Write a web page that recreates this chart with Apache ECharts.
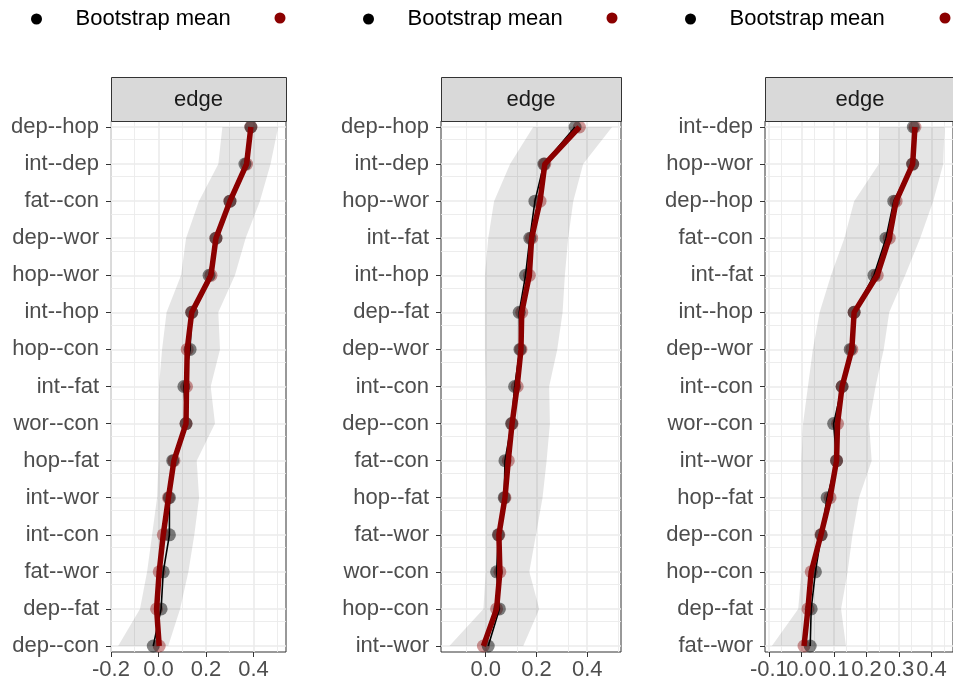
<!DOCTYPE html>
<html>
<head>
<meta charset="utf-8">
<script src="https://cdn.jsdelivr.net/npm/echarts@6/dist/echarts.min.js"></script>
<style>
  html, body { margin: 0; padding: 0; background: #fff; }
  #chart { width: 953px; height: 684px; }
</style>
</head>
<body>
<div id="chart"></div>
<script>
// 各面板的边（从上到下）
var cats1 = ['dep--hop', 'int--dep', 'fat--con', 'dep--wor', 'hop--wor', 'int--hop', 'hop--con', 'int--fat',
  'wor--con', 'hop--fat', 'int--wor', 'int--con', 'fat--wor', 'dep--fat', 'dep--con'];
var boot1 = [0.389, 0.364, 0.301, 0.242, 0.213, 0.140, 0.133, 0.107, 0.116, 0.060, 0.046, 0.046, 0.020, 0.011, -0.022];
var samp1 = [0.389, 0.371, 0.301, 0.242, 0.221, 0.140, 0.121, 0.118, 0.116, 0.065, 0.042, 0.020, 0.003, -0.008, 0.003];
var lo1 = [0.269, 0.252, 0.170, 0.116, 0.095, 0.034, 0.015, 0.002, 0.000, 0.000, -0.006, -0.027, -0.048, -0.078, -0.170];
var hi1 = [0.504, 0.472, 0.427, 0.367, 0.322, 0.252, 0.259, 0.220, 0.238, 0.161, 0.171, 0.151, 0.126, 0.091, 0.041];

var cats2 = ['dep--hop', 'int--dep', 'hop--wor', 'int--fat', 'int--hop', 'dep--fat', 'dep--wor', 'int--con',
  'dep--con', 'fat--con', 'hop--fat', 'fat--wor', 'wor--con', 'hop--con', 'int--wor'];
var boot2 = [0.352, 0.229, 0.194, 0.174, 0.157, 0.132, 0.135, 0.114, 0.102, 0.076, 0.073, 0.050, 0.043, 0.054, 0.010];
var samp2 = [0.369, 0.233, 0.214, 0.181, 0.172, 0.142, 0.139, 0.124, 0.104, 0.089, 0.076, 0.052, 0.056, 0.043, -0.009];
var lo2 = [0.187, 0.096, 0.033, 0.010, -0.003, -0.003, -0.003, 0.000, 0.000, 0.000, 0.000, 0.000, 0.000, -0.009, -0.143];
var hi2 = [0.498, 0.384, 0.345, 0.325, 0.312, 0.303, 0.282, 0.250, 0.253, 0.240, 0.224, 0.198, 0.172, 0.211, 0.148];

var cats3 = ['int--dep', 'hop--wor', 'dep--hop', 'fat--con', 'int--fat', 'int--hop', 'dep--wor', 'int--con',
  'wor--con', 'int--wor', 'hop--fat', 'dep--con', 'hop--con', 'dep--fat', 'fat--wor'];
var boot3 = [0.344, 0.342, 0.284, 0.260, 0.223, 0.162, 0.150, 0.125, 0.099, 0.108, 0.079, 0.061, 0.043, 0.030, 0.027];
var samp3 = [0.349, 0.342, 0.291, 0.270, 0.233, 0.162, 0.155, 0.125, 0.111, 0.108, 0.088, 0.060, 0.030, 0.020, 0.008];
var lo3 = [0.240, 0.238, 0.162, 0.132, 0.091, 0.056, 0.035, 0.020, 0.005, 0.000, 0.000, 0.000, 0.000, -0.010, -0.091];
var hi3 = [0.440, 0.436, 0.405, 0.365, 0.319, 0.270, 0.253, 0.228, 0.208, 0.216, 0.177, 0.157, 0.142, 0.122, 0.137];

// x轴刻度
var ticks1 = [-0.2, 0, 0.2, 0.4];
var ticks2 = [0, 0.2, 0.4];
var ticks3 = [-0.1, 0, 0.1, 0.2, 0.3, 0.4];

var FONT = '"Liberation Sans", Arial, sans-serif';
var FS = 22;

// 面板布局
var panels = [
  { cats: cats1, boot: boot1, samp: samp1, lo: lo1, hi: hi1, ticks: ticks1, left: 111, width: 175, min: -0.2, max: 0.537, step: 0.2, legendLeft: 26, redLeft: 269.5 },
  { cats: cats2, boot: boot2, samp: samp2, lo: lo2, hi: hi2, ticks: ticks2, left: 441, width: 180, min: -0.176, max: 0.533, step: 0.2, legendLeft: 358, redLeft: 601.5 },
  { cats: cats3, boot: boot3, samp: samp3, lo: lo3, hi: hi3, ticks: ticks3, left: 765, width: 190, min: -0.112, max: 0.466, step: 0.1, legendLeft: 680, redLeft: 934.5 }
];
var TOP = 121, HEIGHT = 531;

var myChart = echarts.init(document.getElementById('chart'), null, { renderer: 'canvas' });

function pairs(vals) {
  return vals.map(function (v, i) { return [v, i + 1]; });
}

// 置信带：整条多边形
function bandItem(lo, hi) {
  return function (params, api) {
    if (params.dataIndex !== 0) return null;
    var pts = [];
    for (var i = 0; i < hi.length; i++) pts.push(api.coord([hi[i], i + 1]));
    for (var j = lo.length - 1; j >= 0; j--) pts.push(api.coord([lo[j], j + 1]));
    return { type: 'polygon', shape: { points: pts }, style: { fill: 'rgba(0,0,0,0.1)' } };
  };
}

function xLabel(v) { return v.toFixed(1); }

var grid = [], xAxis = [], yAxis = [], series = [], legend = [], graphic = [];

panels.forEach(function (p, k) {
  grid.push({
    left: p.left, top: TOP, width: p.width, height: HEIGHT,
    show: true, borderColor: '#333333', borderWidth: 1, backgroundColor: 'transparent'
  });
  var pos = p.cats.map(function (c, i) { return i + 1; });
  // 标签分两组放在两根轴上，避免相互重叠时被隐藏
  var evenTicks = p.ticks.filter(function (t, i) { return i % 2 === 0; });
  var oddTicks = p.ticks.filter(function (t, i) { return i % 2 === 1; });
  xAxis.push({
    type: 'value', gridIndex: k, position: 'bottom', min: p.min, max: p.max, interval: p.step,
    axisLine: { show: false, onZero: false },
    axisTick: { show: true, length: 5, customValues: p.ticks, lineStyle: { color: '#333333', width: 1 } },
    axisLabel: {
      customValues: evenTicks, margin: 7, color: '#4d4d4d', fontSize: FS, fontFamily: FONT,
      formatter: xLabel
    },
    splitLine: { show: true, lineStyle: { color: '#ebebeb', width: 1.6 } },
    minorTick: { show: false, splitNumber: 2 },
    minorSplitLine: { show: true, lineStyle: { color: '#ebebeb', width: 0.9 } }
  });
  xAxis.push({
    type: 'value', gridIndex: k, position: 'bottom', offset: 0, min: p.min, max: p.max, interval: p.step,
    axisLine: { show: false, onZero: false },
    axisTick: { show: false },
    axisLabel: {
      show: oddTicks.length > 0, customValues: oddTicks, margin: 7, color: '#4d4d4d', fontSize: FS, fontFamily: FONT,
      formatter: xLabel
    },
    splitLine: { show: false },
    minorSplitLine: { show: false }
  });
  yAxis.push({
    type: 'value', gridIndex: k, min: 0.838, max: 15.162, interval: 1, inverse: true,
    axisLine: { show: false, onZero: false },
    axisTick: { show: true, length: 5, customValues: pos, lineStyle: { color: '#333333', width: 1 } },
    axisLabel: {
      customValues: pos, margin: 12, color: '#4d4d4d', fontSize: FS, fontFamily: FONT,
      formatter: function (v) { return p.cats[Math.round(v) - 1] || ''; }
    },
    splitLine: { show: true, lineStyle: { color: '#ebebeb', width: 1.6 } },
    minorTick: { show: false, splitNumber: 2 },
    minorSplitLine: { show: true, lineStyle: { color: '#ebebeb', width: 0.9 } }
  });

  var xi = 2 * k;
  series.push({
    type: 'custom', name: 'band', xAxisIndex: xi, yAxisIndex: k, clip: true, silent: true,
    renderItem: bandItem(p.lo, p.hi),
    data: p.lo.map(function (v, i) { return [v, p.hi[i], i + 1]; }),
    encode: { x: [0, 1], y: 2 }
  });
  series.push({
    type: 'line', name: 'Bootstrap mean', xAxisIndex: xi, yAxisIndex: k, showSymbol: false, silent: true,
    lineStyle: { color: '#000000', width: 1.6 }, itemStyle: { color: '#000000' },
    data: pairs(p.boot)
  });
  series.push({
    type: 'line', name: 'Sample', xAxisIndex: xi, yAxisIndex: k, showSymbol: false, silent: true,
    lineStyle: { color: '#8b0000', width: 5.5 }, itemStyle: { color: '#8b0000' },
    data: pairs(p.samp)
  });
  series.push({
    type: 'scatter', name: 'Sample', xAxisIndex: xi, yAxisIndex: k, symbolSize: 13, silent: true,
    itemStyle: { color: 'rgba(139,0,0,0.5)' },
    data: pairs(p.samp)
  });
  series.push({
    type: 'scatter', name: 'Bootstrap mean', xAxisIndex: xi, yAxisIndex: k, symbolSize: 13, silent: true,
    itemStyle: { color: 'rgba(0,0,0,0.6)' },
    data: pairs(p.boot)
  });

  // 每个面板上方的图例（两项分开放置）
  legend.push({
    left: p.legendLeft, top: 3, orient: 'horizontal', icon: 'circle',
    itemWidth: 68, itemHeight: 11, selectedMode: false,
    textStyle: { color: '#000000', fontSize: FS, fontFamily: FONT },
    data: [{ name: 'Bootstrap mean', itemStyle: { color: '#000000', opacity: 1 } }]
  });
  legend.push({
    left: p.redLeft, top: 7.5, orient: 'horizontal', icon: 'circle',
    itemWidth: 11, itemHeight: 11, selectedMode: false,
    textStyle: { color: '#000000', fontSize: FS, fontFamily: FONT },
    formatter: function () { return ''; },
    data: [{ name: 'Sample', itemStyle: { color: '#8b0000', opacity: 1 } }]
  });

  // 分面标题条
  graphic.push({
    type: 'rect', left: p.left, top: 77, z: 10,
    shape: { width: p.width, height: 44 },
    style: { fill: '#d9d9d9', stroke: '#333333', lineWidth: 1 }
  });
  graphic.push({
    type: 'text', x: p.left + p.width / 2, y: 100, z: 11,
    style: { text: 'edge', fill: '#1a1a1a', fontSize: FS, fontFamily: FONT, align: 'center', verticalAlign: 'middle' }
  });
});

var option = {
  animation: false,
  backgroundColor: '#ffffff',
  legend: legend,
  grid: grid,
  xAxis: xAxis,
  yAxis: yAxis,
  graphic: graphic,
  series: series
};

myChart.setOption(option);
</script>
</body>
</html>
